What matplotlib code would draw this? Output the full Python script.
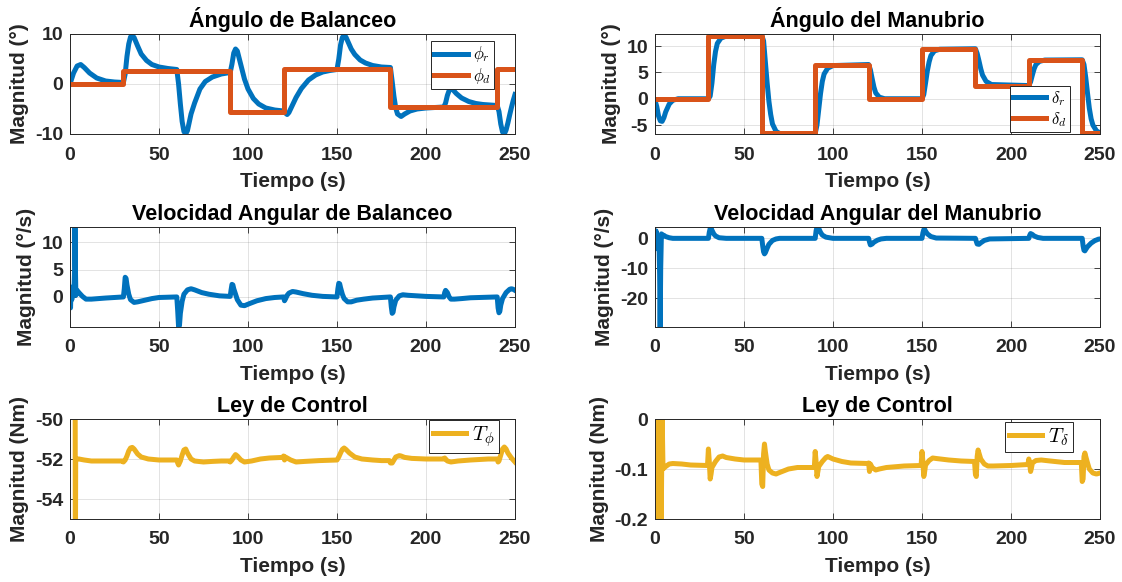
import matplotlib
matplotlib.use('Agg')
import matplotlib.pyplot as plt
from matplotlib.ticker import FormatStrFormatter

plt.rcParams['font.family'] = ['Liberation Sans', 'DejaVu Sans']
plt.rcParams['font.weight'] = 'bold'
plt.rcParams['mathtext.fontset'] = 'cm'
plt.rcParams['axes.unicode_minus'] = False

BLUE = '#0072BD'
ORANGE = '#D95319'
YELLOW = '#EDB120'
DARK = '#262626'

# --- Angulo de balanceo ---
phi_r_t = [0, 2, 4, 6, 8, 11, 15, 20, 25, 30,
           31, 32, 33, 34, 35, 36, 38, 40, 43, 46, 50, 55, 60,
           61, 62, 63, 64, 65, 66, 68, 70, 73, 76, 80, 85, 90,
           91, 92, 93, 94, 96, 98, 100, 103, 106, 110, 115, 120,
           121, 122, 123, 125, 127, 130, 134, 138, 142, 146, 150,
           151, 152, 153, 154, 155, 156, 158, 160, 163, 166, 170, 175, 180,
           181, 182, 183, 184, 186, 188, 191, 195, 200, 205, 210,
           211, 212, 213, 214, 215, 217, 220, 224, 228, 232, 236, 240,
           241, 242, 243, 244, 245, 246, 247, 248, 249, 250]
phi_r = [0, 2.2, 3.6, 3.9, 3.3, 2.2, 1.2, 0.6, 0.4, 0.3,
         2.0, 5.5, 8.0, 9.4, 9.7, 9.3, 7.6, 6.0, 4.7, 3.9, 3.4, 3.1, 2.9,
         0.0, -4.0, -7.5, -9.5, -10.0, -9.3, -6.0, -3.8, -1.0, 0.5, 1.4, 2.0, 2.3,
         4.0, 6.2, 7.0, 6.6, 3.8, 1.0, -1.0, -2.9, -4.0, -4.8, -5.2, -5.4,
         -5.8, -6.1, -5.7, -4.2, -2.7, -0.9, 0.8, 1.8, 2.4, 2.7, 2.9,
         5.0, 7.8, 9.3, 9.7, 9.4, 8.6, 7.0, 5.9, 4.8, 4.2, 3.7, 3.4, 3.3,
         0.5, -2.5, -4.8, -6.0, -6.5, -6.0, -5.4, -5.0, -4.8, -4.7, -4.6,
         -3.8, -2.3, -1.3, -1.0, -1.1, -1.9, -2.8, -3.5, -3.9, -4.1, -4.2, -4.3,
         -5.5, -8.0, -9.6, -10.0, -9.2, -7.8, -6.2, -4.7, -3.3, -2.1]
phi_d_t = [0, 30, 90, 120, 180, 240, 250]
phi_d = [0, 2.7, -5.5, 3.1, -4.5, 3.1, 3.1]

# --- Angulo del manubrio ---
delta_r_t = [0, 1, 2, 3, 4, 5, 6, 8, 10, 13, 30,
             31, 32, 33, 34, 35, 37, 40, 60,
             61, 62, 63, 64, 65, 66, 68, 70, 73, 80, 90,
             91, 92, 93, 94, 95, 97, 100, 120,
             121, 122, 123, 124, 126, 129, 150,
             151, 152, 153, 154, 155, 157, 160, 180,
             181, 182, 183, 184, 186, 189, 210,
             211, 212, 213, 214, 216, 219, 240,
             241, 242, 243, 244, 245, 246, 248, 250]
delta_r = [-0.3, -1.5, -3.3, -4.2, -4.3, -3.6, -2.5, -1.0, -0.3, 0, 0,
           0.5, 3.0, 6.5, 9.0, 10.5, 11.5, 11.9, 12.0,
           11.0, 7.0, 3.0, -0.5, -3.0, -4.8, -6.2, -6.6, -6.8, -6.7, -6.6,
           -5.0, -2.0, 1.0, 3.3, 4.7, 5.8, 6.3, 6.5,
           5.5, 3.8, 2.2, 1.1, 0.3, 0, 0,
           0.8, 3.0, 5.3, 7.0, 8.2, 9.1, 9.4, 9.5,
           8.6, 7.2, 5.7, 4.5, 3.3, 2.7, 2.5,
           3.2, 4.5, 5.7, 6.5, 7.1, 7.35, 7.4,
           6.5, 4.0, 1.0, -1.8, -3.8, -5.0, -6.1, -6.5]
delta_d_t = [0, 30, 60, 90, 120, 150, 180, 210, 240, 250]
delta_d = [0, 12, -6.6, 6.5, 0, 9.5, 2.5, 7.4, -6.6, -6.6]

# --- Velocidad angular de balanceo ---
wphi_t = [0, 0.3, 0.6, 1.0, 1.5, 2.2, 2.6, 2.8, 3.0, 3.3, 4, 5, 7, 9, 12, 16, 20, 25, 30,
          30.5, 31, 31.5, 32, 33, 34, 36, 38, 42, 46, 50, 60,
          60.5, 61, 61.5, 62, 63, 64, 66, 68, 70, 74, 78, 84, 90,
          90.5, 91, 91.5, 92, 93, 94, 96, 98, 101, 105, 110, 115, 120,
          120.5, 121, 122, 123, 125, 127, 131, 136, 142, 150,
          150.5, 151, 151.5, 152, 153, 154, 156, 158, 161, 165, 170, 180,
          180.5, 181, 181.5, 182, 183, 185, 187, 190, 195, 200, 210,
          210.5, 211, 212, 213, 214, 216, 220, 225, 240,
          240.5, 241, 241.5, 242, 243, 245, 247, 248, 249, 250]
wphi = [1.5, -2.0, 1.8, -0.5, 1.0, 0.8, 5.0, 12.7, 6.0, 0.3, 1.2, 0.8, 0.1, -0.4, -0.4, -0.3, -0.2, -0.1, 0,
        1.5, 3.6, 3.4, 2.2, 0.5, -0.5, -1.0, -0.9, -0.6, -0.3, -0.1, 0,
        -2.5, -5.5, -5.2, -3.0, -0.8, 0.5, 1.3, 1.5, 1.3, 0.8, 0.5, 0.2, 0.1,
        1.3, 2.3, 2.2, 1.5, 0.5, -0.5, -1.5, -1.6, -1.2, -0.7, -0.3, -0.1, 0,
        -0.7, -0.4, 0.3, 0.7, 1.0, 0.9, 0.6, 0.3, 0.1, 0,
        1.5, 2.5, 2.4, 1.7, 0.5, -0.3, -0.9, -0.9, -0.6, -0.4, -0.2, 0,
        -1.8, -3.0, -2.8, -1.8, -0.6, 0.2, 0.4, 0.3, 0.2, 0.1, 0,
        0.8, 1.2, 0.8, 0.0, -0.4, -0.4, -0.3, -0.15, 0,
        -2.0, -2.9, -2.6, -1.5, -0.3, 0.8, 1.4, 1.5, 1.4, 1.2]

# --- Velocidad angular del manubrio ---
wdel_t = [0, 0.3, 0.6, 1.0, 1.5, 2.2, 2.6, 2.9, 3.2, 3.6, 4, 5, 6, 8, 10, 30,
          30.5, 31, 31.5, 32, 33, 34, 36, 40, 60,
          60.5, 61, 61.5, 62, 63, 64, 66, 68, 70, 90,
          90.5, 91, 91.5, 92, 93, 94, 96, 100, 120,
          120.5, 121, 122, 123, 125, 127, 130, 150,
          150.5, 151, 151.5, 152, 153, 155, 158, 180,
          180.5, 181, 182, 183, 185, 188, 210,
          210.5, 211, 212, 213, 215, 218, 240,
          240.5, 241, 241.5, 242, 243, 245, 247, 249, 250]
wdel = [2.0, -3.5, 2.5, -2.0, 0.5, 0, -12, -29.7, -10, 1.5, 1.2, 1.0, 0.6, 0.2, 0, 0,
        2.0, 3.3, 3.5, 2.7, 1.5, 0.8, 0.2, 0, 0,
        -2.5, -4.5, -5.2, -4.8, -3.3, -2.0, -0.7, -0.2, 0, 0,
        2.5, 3.8, 4.0, 3.3, 2.0, 1.1, 0.4, 0, 0,
        -1.2, -2.2, -1.9, -1.3, -0.6, -0.2, 0, 0,
        1.8, 2.9, 3.0, 2.4, 1.5, 0.6, 0.1, 0,
        -1.0, -1.9, -2.0, -1.5, -0.7, -0.2, 0,
        1.0, 1.6, 1.3, 0.8, 0.3, 0, 0,
        -2.5, -4.0, -4.2, -3.7, -2.8, -1.6, -0.8, -0.3, -0.2]

# --- Ley de control T_phi ---
tphi_t = [0, 2.9, 3.0, 3.2, 5, 8, 12, 20, 29.5, 30, 31, 32, 33, 34, 35, 36, 38, 40, 44, 50, 55, 60,
          60.5, 61, 62, 63, 64, 65, 66, 68, 70, 75, 80, 85, 89.5,
          90, 91, 92, 93, 94, 96, 98, 102, 107, 112, 117, 119.5,
          120, 120.5, 121, 122, 124, 127, 132, 140, 150,
          151, 152, 153, 154, 155, 157, 160, 164, 170, 175, 179.5,
          180, 181, 182, 183, 185, 186, 188, 192, 200, 210,
          210.5, 211, 212, 214, 218, 225, 235, 240,
          240.5, 241, 242, 243, 244, 245, 246, 248, 250]
tphi = [-47, -47, -58, -52.0, -52.0, -52.05, -52.1, -52.1, -52.1, -52.15, -52.05, -51.85, -51.6, -51.45,
        -51.42, -51.5, -51.75, -51.9, -52.0, -52.05, -52.05, -52.05,
        -52.2, -52.3, -52.1, -51.8, -51.55, -51.5, -51.7, -52.0, -52.1, -52.15, -52.12, -52.1, -52.1,
        -52.15, -52.05, -51.9, -51.78, -51.85, -52.05, -52.15, -52.1, -52.0, -51.95, -51.93, -51.92,
        -51.85, -52.05, -51.9, -51.95, -52.05, -52.15, -52.12, -52.08, -52.05,
        -51.9, -51.7, -51.52, -51.45, -51.52, -51.7, -51.9, -52.0, -52.05, -52.08, -52.08,
        -52.2, -52.2, -52.05, -51.9, -51.83, -51.85, -51.92, -51.97, -52.0, -52.0,
        -51.95, -52.0, -52.1, -52.15, -52.1, -52.05, -52.0, -52.0,
        -52.15, -52.1, -51.8, -51.5, -51.4, -51.5, -51.7, -51.95, -52.15]

# --- Ley de control T_delta ---
tdel_t = [0, 0.5, 1, 1.5, 2, 2.5, 3, 3.5, 4, 4.5, 6, 8, 10, 15, 20, 29.5,
          30, 30.5, 31, 31.5, 32, 34, 36, 38, 40, 45, 50, 59.5,
          60, 60.5, 61, 61.5, 62, 63, 64, 66, 68, 70, 75, 80, 89.5,
          90, 90.5, 91, 91.5, 92, 94, 96, 97, 100, 105, 110, 119.5,
          120, 120.5, 121, 122, 124, 126, 130, 140, 149.5,
          150, 150.5, 151, 151.5, 152, 154, 156, 158, 165, 172, 179.5,
          180, 180.5, 181, 181.5, 182, 183, 185, 187, 190, 200, 209.5,
          210, 210.5, 211, 211.5, 212, 214, 217, 222, 230, 239.5,
          240, 240.5, 241, 241.5, 242, 243, 244, 246, 248, 250]
tdel = [0.01, -0.21, 0.01, -0.21, 0.01, -0.21, 0.01, -0.21, 0.01, -0.1, -0.095, -0.09, -0.089, -0.09, -0.092, -0.093,
        -0.06, -0.085, -0.12, -0.11, -0.097, -0.085, -0.076, -0.074, -0.077, -0.08, -0.082, -0.082,
        -0.13, -0.135, -0.07, -0.05, -0.065, -0.09, -0.102, -0.108, -0.11, -0.107, -0.1, -0.097, -0.097,
        -0.065, -0.085, -0.115, -0.105, -0.095, -0.085, -0.077, -0.075, -0.08, -0.085, -0.088, -0.089,
        -0.088, -0.105, -0.09, -0.097, -0.102, -0.1, -0.097, -0.094, -0.093,
        -0.065, -0.085, -0.115, -0.105, -0.092, -0.083, -0.078, -0.079, -0.082, -0.084, -0.085,
        -0.11, -0.115, -0.075, -0.062, -0.068, -0.08, -0.09, -0.094, -0.094, -0.093, -0.091,
        -0.08, -0.09, -0.105, -0.098, -0.088, -0.083, -0.082, -0.084, -0.087, -0.087,
        -0.125, -0.12, -0.075, -0.068, -0.075, -0.088, -0.1, -0.108, -0.11, -0.108]


LW = 3.6


def style_axes(ax, title, ylabel, ylim, yticks):
    ax.set_xlim(0, 250)
    ax.set_xticks([0, 50, 100, 150, 200, 250])
    ax.set_ylim(*ylim)
    ax.set_yticks(yticks)
    ax.yaxis.set_major_formatter(FormatStrFormatter('%g'))
    ax.set_title(title, fontsize=15.5, fontweight='bold', pad=5, color='black')
    ax.set_xlabel('Tiempo (s)', fontsize=15, fontweight='bold', color=DARK, labelpad=6)
    ax.set_ylabel(ylabel, fontsize=15, fontweight='bold', color=DARK, labelpad=4)
    ax.tick_params(direction='in', length=4, width=0.6, colors=DARK, labelsize=14,
                   top=True, right=True)
    ax.tick_params(axis='x', pad=9)
    ax.tick_params(axis='y', pad=5)
    for lab in ax.get_xticklabels() + ax.get_yticklabels():
        lab.set_fontweight('bold')
    ax.grid(True, color=DARK, alpha=0.15, linewidth=0.6)
    for sp in ax.spines.values():
        sp.set_color(DARK)
        sp.set_linewidth(0.7)


def add_legend(ax, loc, anchor, size, hl):
    leg = ax.legend(loc=loc, bbox_to_anchor=anchor, fontsize=size, frameon=True,
                    fancybox=False, framealpha=1, edgecolor=DARK, handlelength=hl,
                    borderpad=0.2, labelspacing=0.1, handletextpad=0.3, borderaxespad=0)
    leg.get_frame().set_linewidth(0.7)


fig = plt.figure(figsize=(11.22, 5.82), dpi=100)
W = 445 / 1122
H = 100 / 582
lefts = [70 / 1122, 655 / 1122]
bottoms = [1 - 134 / 582, 1 - 327 / 582, 1 - 519 / 582]
axs = [[fig.add_axes([l, b, W, H]) for l in lefts] for b in bottoms]

ax = axs[0][0]
ax.plot(phi_r_t, phi_r, color=BLUE, lw=LW, label=r'$\phi_r$')
ax.plot(phi_d_t, phi_d, color=ORANGE, lw=LW, drawstyle='steps-post', label=r'$\phi_d$')
style_axes(ax, 'Ángulo de Balanceo', 'Magnitud (°)', (-10, 10), [-10, 0, 10])
add_legend(ax, 'upper right', (0.953, 0.93), 12, 2.0)

ax = axs[0][1]
ax.plot(delta_r_t, delta_r, color=BLUE, lw=LW, label=r'$\delta_r$')
ax.plot(delta_d_t, delta_d, color=ORANGE, lw=LW, drawstyle='steps-post', label=r'$\delta_d$')
style_axes(ax, 'Ángulo del Manubrio', 'Magnitud (°)', (-6.7, 12.3), [-5, 0, 5, 10])
add_legend(ax, 'lower right', (0.933, 0.02), 12, 2.0)

ax = axs[1][0]
ax.plot(wphi_t, wphi, color=BLUE, lw=LW)
style_axes(ax, 'Velocidad Angular de Balanceo', 'Magnitud (°/s)', (-5.5, 12.8), [0, 5, 10])

ax = axs[1][1]
ax.plot(wdel_t, wdel, color=BLUE, lw=LW)
style_axes(ax, 'Velocidad Angular del Manubrio', 'Magnitud (°/s)', (-29.7, 3.8), [-20, -10, 0])

ax = axs[2][0]
ax.plot(tphi_t, tphi, color=YELLOW, lw=LW, label=r'$T_\phi$')
style_axes(ax, 'Ley de Control', 'Magnitud (Nm)', (-55, -50), [-54, -52, -50])
add_legend(ax, 'upper right', (0.964, 0.99), 15, 1.6)

ax = axs[2][1]
ax.plot(tdel_t, tdel, color=YELLOW, lw=LW, label=r'$T_\delta$')
style_axes(ax, 'Ley de Control', 'Magnitud (Nm)', (-0.2, 0), [-0.2, -0.1, 0])
add_legend(ax, 'upper right', (0.94, 0.97), 15, 1.6)

fig.savefig('out.png', dpi=100)
